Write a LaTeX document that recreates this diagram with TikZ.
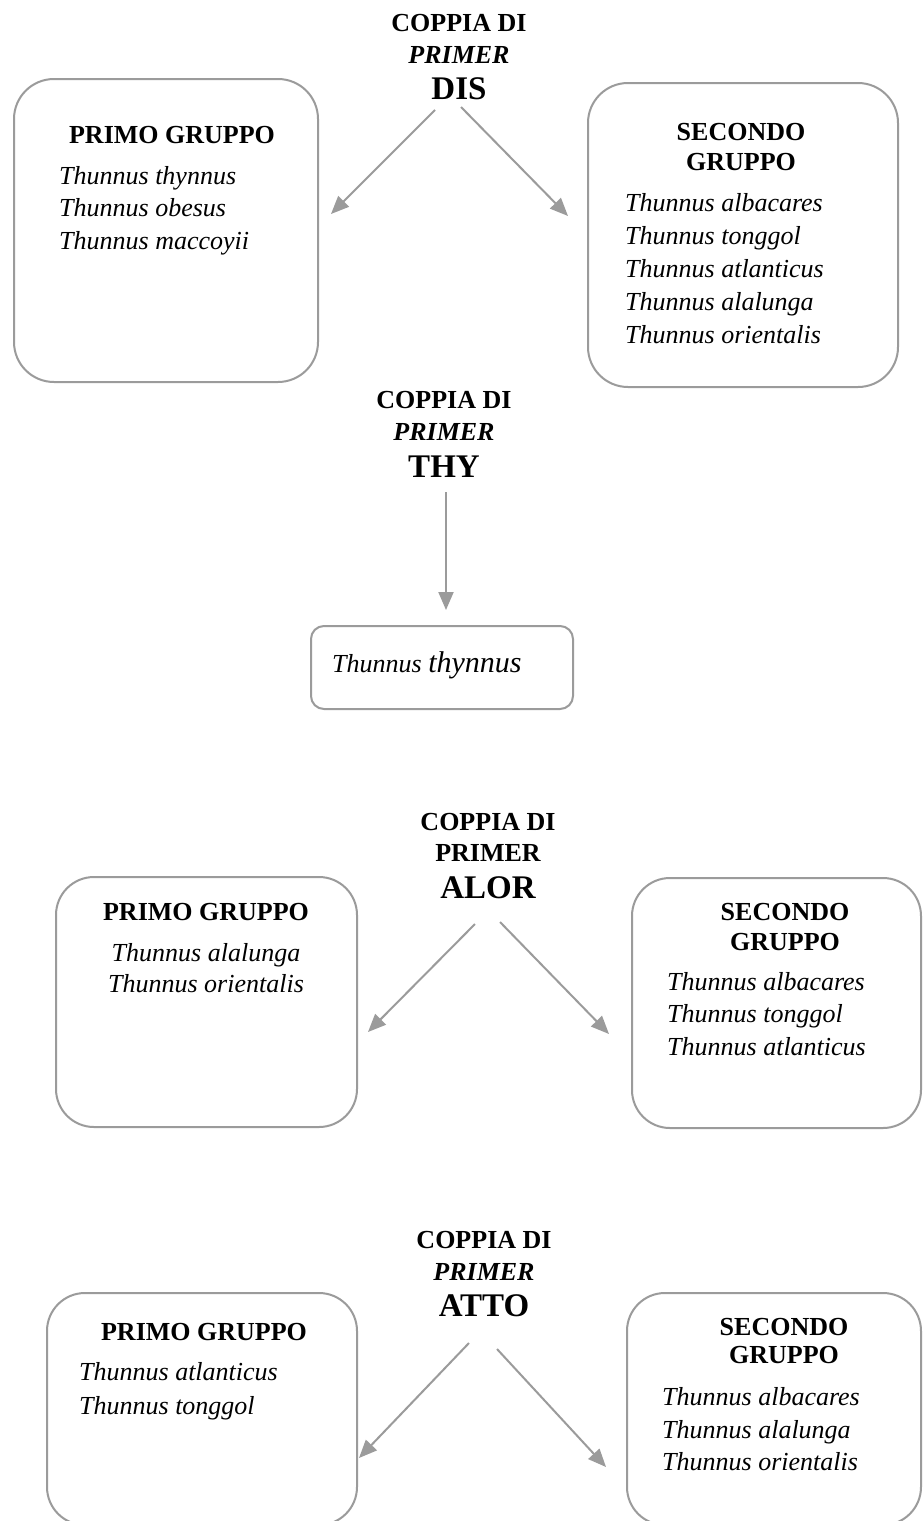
\documentclass[tikz,border=0pt]{standalone}
\usepackage{fontspec}
\setmainfont{Liberation Serif}
\usetikzlibrary{arrows.meta}
\definecolor{boxgray}{RGB}{155,155,155}
\tikzset{
  bigbox/.style={draw=boxgray, line width=2pt, rounded corners=40pt, inner sep=0pt, outer sep=0pt, anchor=north west},
  smallbox/.style={draw=boxgray, line width=2pt, rounded corners=13pt, inner sep=0pt, outer sep=0pt, anchor=north west},
  arr/.style={draw=boxgray, line width=2pt, -{Triangle[length=18pt,width=15pt]}},
  ttl/.style={font=\bfseries\fontsize{26}{30}\selectfont, anchor=base, inner sep=0pt},
  ttlit/.style={font=\bfseries\itshape\fontsize{26}{30}\selectfont, anchor=base, inner sep=0pt},
  big/.style={font=\bfseries\fontsize{33}{36}\selectfont, anchor=base, inner sep=0pt},
  sp/.style={font=\itshape\fontsize{26}{30}\selectfont, anchor=base west, inner sep=0pt},
  spc/.style={font=\itshape\fontsize{26}{30}\selectfont, anchor=base, inner sep=0pt},
}
\begin{document}
\begin{tikzpicture}[x=1pt,y=-1pt]
\useasboundingbox (0,0) rectangle (923,1521);
\clip (0,0) rectangle (923,1521);
\fill[white] (0,0) rectangle (923,1521);

% ---------------- DIS ----------------
\node[ttl] (d1) at (459,31) {COPPIA DI};
\node[ttlit] (d2) at (459,63) {PRIMER};
\node[big] (d3) at (459,99) {DIS};
\node[bigbox, minimum width=304pt, minimum height=303pt] (dA) at (14,79) {};
\node[bigbox, minimum width=310pt, minimum height=304pt] (dB) at (588,83) {};
\node[ttl] (dAt) at (172,143) {PRIMO GRUPPO};
\node[sp] (dA1) at (59,184) {Thunnus thynnus};
\node[sp] (dA2) at (59,216) {Thunnus obesus};
\node[sp] (dA3) at (59,249) {Thunnus maccoyii};
\node[ttl] (dBt1) at (741,140) {SECONDO};
\node[ttl] (dBt2) at (741,170) {GRUPPO};
\node[sp] (dB1) at (625,211) {Thunnus albacares};
\node[sp] (dB2) at (625,244) {Thunnus tonggol};
\node[sp] (dB3) at (625,277) {Thunnus atlanticus};
\node[sp] (dB4) at (625,310) {Thunnus alalunga};
\node[sp] (dB5) at (625,343) {Thunnus orientalis};
\coordinate (dL0) at (435,110); \coordinate (dL1) at (331,214);
\coordinate (dR0) at (461,107); \coordinate (dR1) at (568,216);
\draw[arr] (dL0) -- (dL1);
\draw[arr] (dR0) -- (dR1);

% ---------------- THY ----------------
\node[ttl] (t1) at (444,408) {COPPIA DI};
\node[ttlit] (t2) at (444,440) {PRIMER};
\node[big] (t3) at (444,477) {THY};
\node[smallbox, minimum width=262pt, minimum height=83pt] (tA) at (311,626) {};
\node[sp] (tA1) at (332,672) {Thunnus {\fontsize{30}{32}\selectfont thynnus}};
\coordinate (tD0) at (446,492); \coordinate (tD1) at (446,610);
\draw[arr] (tD0) -- (tD1);

% ---------------- ALOR ----------------
\node[ttl] (a1) at (488,830) {COPPIA DI};
\node[ttl] (a2) at (488,861) {PRIMER};
\node[big] (a3) at (488,898) {ALOR};
\node[bigbox, rounded corners=38pt, minimum width=301pt, minimum height=250pt] (aA) at (56,877) {};
\node[bigbox, rounded corners=38pt, minimum width=289pt, minimum height=250pt] (aB) at (632,878) {};
\node[ttl] (aAt) at (206,920) {PRIMO GRUPPO};
\node[spc] (aA1) at (206,961) {Thunnus alalunga};
\node[spc] (aA2) at (206,992) {Thunnus orientalis};
\node[ttl] (aBt1) at (785,920) {SECONDO};
\node[ttl] (aBt2) at (785,950) {GRUPPO};
\node[sp] (aB1) at (667,990) {Thunnus albacares};
\node[sp] (aB2) at (667,1022) {Thunnus tonggol};
\node[sp] (aB3) at (667,1055) {Thunnus atlanticus};
\coordinate (aL0) at (475,924); \coordinate (aL1) at (368,1032);
\coordinate (aR0) at (500,922); \coordinate (aR1) at (609,1034);
\draw[arr] (aL0) -- (aL1);
\draw[arr] (aR0) -- (aR1);

% ---------------- ATTO ----------------
\node[ttl] (b1) at (484,1248) {COPPIA DI};
\node[ttlit] (b2) at (484,1280) {PRIMER};
\node[big] (b3) at (484,1316) {ATTO};
\node[bigbox, rounded corners=38pt, minimum width=310pt, minimum height=232pt] (bA) at (47,1293) {};
\node[bigbox, rounded corners=38pt, minimum width=294pt, minimum height=232pt] (bB) at (627,1293) {};
\node[ttl] (bAt) at (204,1340) {PRIMO GRUPPO};
\node[sp] (bA1) at (79,1380) {Thunnus atlanticus};
\node[sp] (bA2) at (79,1414) {Thunnus tonggol};
\node[ttl] (bBt1) at (784,1335) {SECONDO};
\node[ttl] (bBt2) at (784,1363) {GRUPPO};
\node[sp] (bB1) at (662,1405) {Thunnus albacares};
\node[sp] (bB2) at (662,1438) {Thunnus alalunga};
\node[sp] (bB3) at (662,1470) {Thunnus orientalis};
\coordinate (bL0) at (469,1343); \coordinate (bL1) at (359,1458);
\coordinate (bR0) at (497,1349); \coordinate (bR1) at (606,1467);
\draw[arr] (bL0) -- (bL1);
\draw[arr] (bR0) -- (bR1);
\end{tikzpicture}
\end{document}
